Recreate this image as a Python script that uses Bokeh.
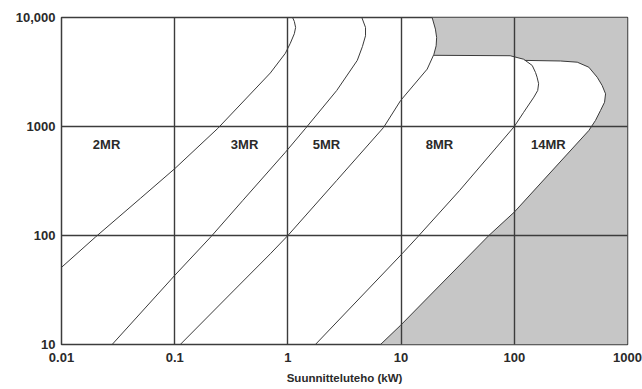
from bokeh.plotting import figure
from bokeh.models import Range1d, FixedTicker, Title, ColumnDataSource
from bokeh.embed import file_html
from bokeh.resources import INLINE
from bokeh.core.properties import value

# axis ticks
x_ticks = [0.01, 0.1, 1, 10, 100, 1000]
x_tick_labels = ["0.01", "0.1", "1", "10", "100", "1000"]
y_ticks = [10, 100, 1000, 10000]
y_tick_labels = ["10", "100", "1000", "10,000"]
x_title = "Suunnitteluteho (kW)"

# curves (x = kW, y = value)
mr2_x = [0.01, 0.02, 0.05, 0.1, 0.24, 0.7, 0.95, 1.05, 1.14, 1.17, 1.14, 1.1]
mr2_y = [51, 97, 220, 410, 960, 3100, 4700, 5800, 7100, 8100, 9200, 10000]

mr3_x = [0.028, 0.1, 0.21, 0.4, 0.95, 1.43, 2.7, 4.1, 4.55, 4.85, 4.85, 4.5]
mr3_y = [10, 43, 98, 210, 580, 960, 2140, 4040, 5400, 6800, 8100, 10000]

mr5_x = [0.112, 0.33, 0.7, 1.0, 2.7, 7.0, 9.9, 17.0, 19.5, 20.4, 20.6, 20.1, 18.8]
mr5_y = [10, 31, 68, 100, 320, 980, 1730, 3360, 4600, 5500, 6560, 7820, 10000]

mr8_x = [1.75, 10.2, 14, 33, 100, 121, 149, 161, 164, 159, 154, 144, 121, 92, 19.5]
mr8_y = [10, 68, 97, 260, 1000, 1350, 1860, 2140, 2470, 2830, 3130, 3630, 4140, 4460, 4500]

mr14_x = [6.58, 9.9, 59.6, 100, 455, 521, 577, 627, 640, 597, 540, 455, 360, 256, 124]
mr14_y = [10, 15, 100, 164, 918, 1135, 1400, 1670, 1995, 2380, 2830, 3500, 3890, 3990, 4040]

# curve labels
label_text = ["2MR", "3MR", "5MR", "8MR", "14MR"]
label_x = [0.025, 0.414, 2.19, 21.8, 200]
label_y = [684, 684, 684, 684, 684]

# corners of the shaded region at the right edge
corner_x = [1000, 1000]
corner_y = [10, 10000]

# shaded (gray) region outline built from the curves:
# top of 5MR (downwards), top edge of 8MR (rightwards), 14MR (downwards), right edge
part5 = [(x, y) for x, y in zip(mr5_x, mr5_y) if y >= 4500][::-1]
part8 = [(x, y) for x, y in zip(mr8_x, mr8_y) if y >= 4100][::-1]
part14 = list(zip(mr14_x, mr14_y))[::-1]
shade = part5 + part8 + part14 + list(zip(corner_x, corner_y))
shade_x = [pt[0] for pt in shade]
shade_y = [pt[1] for pt in shade]

p = figure(width=642, height=389,
           x_axis_type="log", y_axis_type="log",
           x_range=Range1d(0.01, 1000), y_range=Range1d(10, 10000),
           output_backend="svg", toolbar_location=None,
           min_border_left=61, min_border_right=15,
           min_border_top=17, min_border_bottom=45)

p.background_fill_color = "white"
p.border_fill_color = "white"
p.outline_line_color = "#3c3c3c"
p.outline_line_width = 1.5

p.patch(shade_x, shade_y, fill_color="#c6c6c6", line_color=None)

line_color = "#3a3a3a"
for xs, ys in [(mr2_x, mr2_y), (mr3_x, mr3_y), (mr5_x, mr5_y), (mr8_x, mr8_y), (mr14_x, mr14_y)]:
    p.line(xs, ys, line_color=line_color, line_width=1.0)

src = ColumnDataSource(dict(x=label_x, y=label_y, t=label_text))
p.text(x="x", y="y", text="t", source=src, text_align="center", text_baseline="middle",
       text_font=value("Liberation Sans"), text_font_size="13px", text_font_style="bold",
       text_color="#2a2a2a")

# grids
for g in (p.xgrid, p.ygrid):
    g.grid_line_color = "#3c3c3c"
    g.grid_line_width = 1.4
    g.grid_line_alpha = 1.0
    g.level = "overlay"
p.xgrid.ticker = FixedTicker(ticks=x_ticks)
p.ygrid.ticker = FixedTicker(ticks=y_ticks)

# axes
p.xaxis.ticker = FixedTicker(ticks=x_ticks, minor_ticks=[])
p.yaxis.ticker = FixedTicker(ticks=y_ticks, minor_ticks=[])
p.xaxis.major_label_overrides = {t: s for t, s in zip(x_ticks, x_tick_labels)}
p.yaxis.major_label_overrides = {t: s for t, s in zip(y_ticks, y_tick_labels)}
for ax in (p.xaxis, p.yaxis):
    ax.axis_line_color = None
    ax.major_tick_line_color = None
    ax.minor_tick_line_color = None
    ax.major_tick_out = 0
    ax.major_tick_in = 0
    ax.minor_tick_out = 0
    ax.minor_tick_in = 0
    ax.major_label_text_font = "Liberation Sans"
    ax.major_label_text_font_style = "bold"
    ax.major_label_text_font_size = "13px"
    ax.major_label_text_color = "#2a2a2a"
p.xaxis.major_label_standoff = 8
p.yaxis.major_label_standoff = 6

p.add_layout(Title(text=x_title, align="center", offset=-9,
                   text_font="Liberation Sans", text_font_style="bold",
                   text_font_size="11.5px", text_color="#2a2a2a", standoff=10), "below")

open("out.html", "w").write(file_html(p, INLINE))
